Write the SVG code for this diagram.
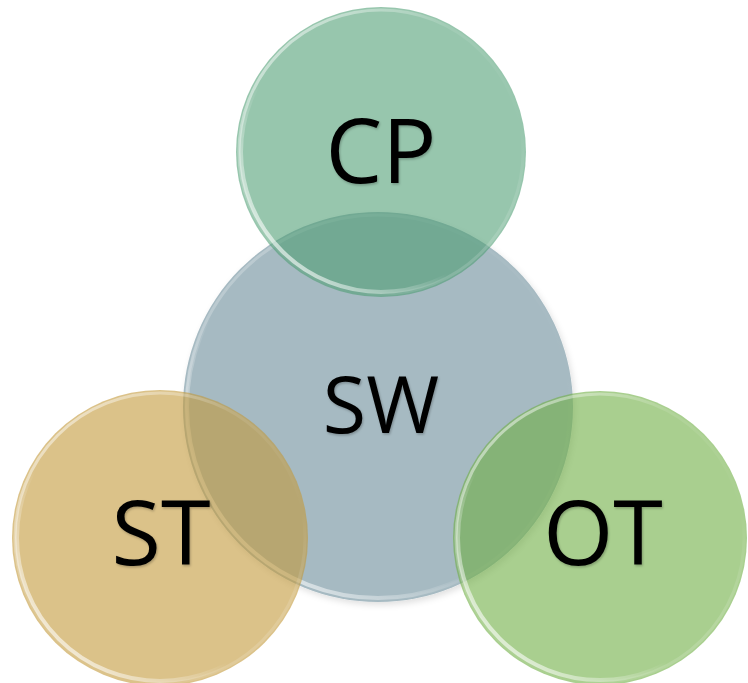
<svg xmlns="http://www.w3.org/2000/svg" width="748" height="683" viewBox="0 0 748 683">
  <defs>
    <filter id="sh" x="-20%" y="-20%" width="140%" height="140%">
      <feDropShadow dx="2" dy="3" stdDeviation="3" flood-color="#000" flood-opacity="0.12"/>
    </filter>
    <filter id="tsh" x="-20%" y="-20%" width="140%" height="140%">
      <feDropShadow dx="1" dy="1.5" stdDeviation="1.2" flood-color="#000" flood-opacity="0.25"/>
    </filter>
    <linearGradient id="rim" x1="0" y1="0" x2="1" y2="1">
      <stop offset="0" stop-color="#fff" stop-opacity="0.7"/>
      <stop offset="0.4" stop-color="#fff" stop-opacity="0.1"/>
      <stop offset="0.7" stop-color="#fff" stop-opacity="0"/>
      <stop offset="1" stop-color="#fff" stop-opacity="0.3"/>
    </linearGradient>
    <linearGradient id="rim2" x1="1" y1="0" x2="0" y2="1">
      <stop offset="0" stop-color="#fff" stop-opacity="0"/>
      <stop offset="0.6" stop-color="#fff" stop-opacity="0"/>
      <stop offset="0.85" stop-color="#fff" stop-opacity="0.6"/>
      <stop offset="1" stop-color="#fff" stop-opacity="0.15"/>
    </linearGradient>
  </defs>
  <style>
    .lbl { font-family: "Open Sans", "Noto Sans", "DejaVu Sans", sans-serif; fill: #000; text-anchor: middle; }
    .big { font-size: 90px; }
    .mid { font-size: 79px; }
    .rim { fill: none; stroke: url(#rim); stroke-width: 3; }
    .rim2 { fill: none; stroke: url(#rim2); stroke-width: 4; }
  </style>

  <g id="connectors"></g>

  <g id="node-sw">
    <circle cx="378" cy="407" r="195" fill="#a6bac2" filter="url(#sh)"/>
    <circle cx="378" cy="407" r="192" class="rim" opacity="0.5"/>
    <circle cx="378" cy="407" r="191" class="rim2"/>
    <text x="381" y="433" class="lbl mid" filter="url(#tsh)">SW</text>
  </g>

  <g id="node-cp">
    <circle cx="381" cy="152" r="145" fill="#4c9d72" fill-opacity="0.58"/>
    <circle cx="381" cy="152" r="142" class="rim"/>
    <circle cx="381" cy="152" r="140" class="rim2"/>
    <text x="381" y="183" class="lbl big" filter="url(#tsh)">CP</text>
  </g>

  <g id="node-st">
    <circle cx="160" cy="538" r="148" fill="#c39a3a" fill-opacity="0.6"/>
    <circle cx="160" cy="538" r="145" class="rim"/>
    <circle cx="160" cy="538" r="143" class="rim2"/>
    <text x="161" y="565" class="lbl big" filter="url(#tsh)">ST</text>
  </g>

  <g id="node-ot">
    <circle cx="600" cy="538" r="147" fill="#70af44" fill-opacity="0.6"/>
    <circle cx="600" cy="538" r="144" class="rim"/>
    <circle cx="600" cy="538" r="142" class="rim2"/>
    <text x="603" y="565" class="lbl big" filter="url(#tsh)">OT</text>
  </g>
</svg>
